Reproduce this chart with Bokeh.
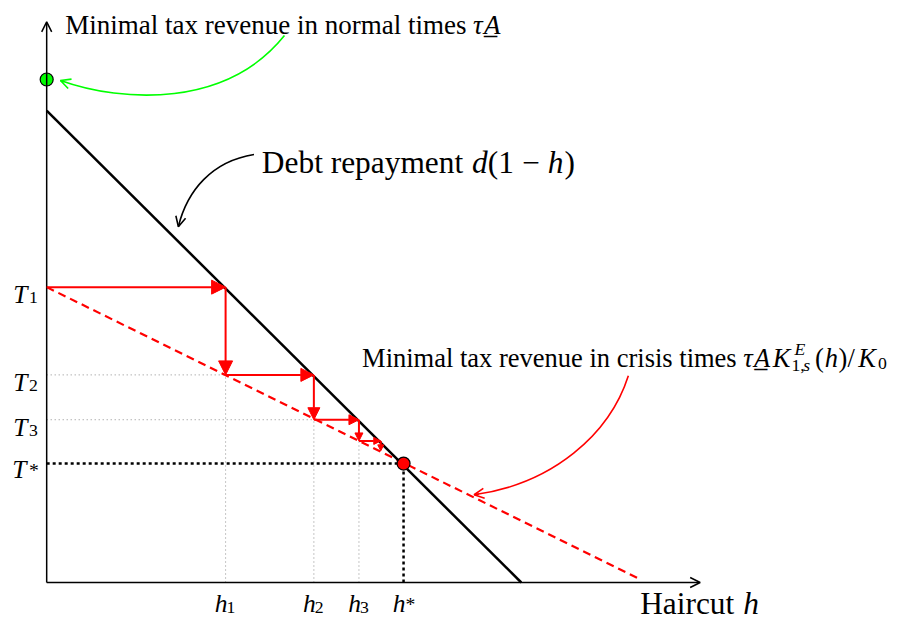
from bokeh.plotting import figure
from bokeh.models import Range1d, Arrow, OpenHead, NormalHead, Label
from bokeh.embed import file_html
from bokeh.resources import INLINE

# ---------------- data (debt d = 1) ----------------
debt_h = [0.0, 1.0]              # Debt repayment d(1-h)
debt_y = [1.0, 0.0]
crisis_h = [0.0, 1.244]          # Minimal tax revenue in crisis times
crisis_y = [0.626, 0.010]
normal_tax = 1.066               # Minimal tax revenue in normal times
cob_h = [0.377, 0.563, 0.658, 0.704]          # h_1 .. h_4
cob_T = [0.626, 0.440, 0.345, 0.300, 0.279]   # T_1 .. T_5
h_star = 0.752
T_star = 0.252
y_tick_vals = [0.626, 0.440, 0.345, 0.252]
y_tick_main = ["T", "T", "T", "T"]
y_tick_script = ["1", "2", "3", "*"]
x_tick_vals = [0.377, 0.563, 0.658, 0.752]
x_tick_main = ["h", "h", "h", "h"]
x_tick_script = ["1", "2", "3", "*"]
x_axis_end = 1.377
y_axis_end = 1.188

# ---------------- layout helpers (reference-pixel frame 917 x 637) ----------------
W, H = 901, 621
RW, RH = 917, 637
K = W / RW            # font scale from reference frame to canvas
OX, OY = 47, 597      # reference pixel of origin
SX, SY = 483, 484     # reference pixels per data unit


def X(px):
    return (px - OX) / SX


def Y(py):
    return (OY - py) / SY


def PX(h):
    return OX + h * SX


def PY(v):
    return OY - v * SY


RED = "#ff0000"
GREEN = "#00ff00"
SERIF = "Liberation Serif"

p = figure(width=W, height=H, output_backend="svg", toolbar_location=None,
           x_range=Range1d(X(0), X(RW)), y_range=Range1d(Y(RH), Y(0)),
           x_axis_type=None, y_axis_type=None, min_border=0)
p.min_border_left = p.min_border_right = p.min_border_top = p.min_border_bottom = 0
p.grid.visible = False
p.outline_line_color = None
p.background_fill_color = "white"
p.border_fill_color = "white"


def lab(px, py, text, size, italic=False, color="black"):
    p.add_layout(Label(x=X(px), y=Y(py), text=text, text_font=SERIF,
                       text_font_size=f"{size * K:.1f}px",
                       text_font_style="italic" if italic else "normal",
                       text_color=color, text_baseline="alphabetic",
                       text_align="left"))


# ---------------- guide lines ----------------
gx0, gy0, gx1, gy1 = [], [], [], []
for i in (1, 2):
    gx0.append(0); gy0.append(cob_T[i]); gx1.append(cob_h[i - 1]); gy1.append(cob_T[i])
for i in (0, 1, 2):
    gx0.append(cob_h[i]); gy0.append(0); gx1.append(cob_h[i]); gy1.append(cob_T[i + 1])
p.segment(gx0, gy0, gx1, gy1, line_color="#8c8c8c", line_width=1, line_dash="1 3")

p.segment([0, h_star], [T_star, 0], [h_star, h_star], [T_star, T_star],
          line_color="black", line_width=2.5, line_dash="3 3")

# ---------------- main curves ----------------
p.line(crisis_h, crisis_y, line_color=RED, line_width=2.2, line_dash="8 5")
p.line(debt_h, debt_y, line_color="black", line_width=2.5)

p.add_layout(Arrow(x_start=0, y_start=0, x_end=x_axis_end, y_end=0,
                   end=OpenHead(size=10, line_width=1.5), line_width=1.5))
p.add_layout(Arrow(x_start=0, y_start=0, x_end=0, y_end=y_axis_end,
                   end=OpenHead(size=10, line_width=1.5), line_width=1.5))

hsz = [14, 13, 10, 7]
vsz = [14, 12, 8, 6]
for i in range(len(cob_h)):
    xs = 0 if i == 0 else cob_h[i - 1]
    p.add_layout(Arrow(x_start=xs, y_start=cob_T[i], x_end=cob_h[i], y_end=cob_T[i],
                       end=NormalHead(size=hsz[i], fill_color=RED, line_color=RED, line_width=1),
                       line_color=RED, line_width=2))
    p.add_layout(Arrow(x_start=cob_h[i], y_start=cob_T[i], x_end=cob_h[i], y_end=cob_T[i + 1],
                       end=NormalHead(size=vsz[i], fill_color=RED, line_color=RED, line_width=1),
                       line_color=RED, line_width=2))

p.scatter([0], [normal_tax], size=13, fill_color=GREEN, line_color="black", line_width=1.2)
p.scatter([h_star], [T_star], size=13, fill_color=RED, line_color="black", line_width=1.2)


# ---------------- curved annotation arrows ----------------
def curved(P0, C1, C2, P3, color, lw=1.6):
    p.bezier(x0=[X(P0[0])], y0=[Y(P0[1])], x1=[X(P3[0])], y1=[Y(P3[1])],
             cx0=[X(C1[0])], cy0=[Y(C1[1])], cx1=[X(C2[0])], cy1=[Y(C2[1])],
             line_color=color, line_width=lw)
    sx = P3[0] - 0.06 * (P3[0] - C2[0])
    sy = P3[1] - 0.06 * (P3[1] - C2[1])
    p.add_layout(Arrow(x_start=X(sx), y_start=Y(sy), x_end=X(P3[0]), y_end=Y(P3[1]),
                       end=OpenHead(size=10, line_color=color, line_width=lw),
                       line_color=color, line_width=lw))


curved((289, 36), (230, 110), (125, 105), (61, 82), GREEN)
curved((258, 158), (215, 165), (190, 195), (181, 232), "black")
curved((639, 385), (620, 445), (562, 496), (482, 507), RED)

# ---------------- texts ----------------
lab(66, 25, "Minimal tax revenue in normal times", 27.5)
lab(481, 25, "\u03c4", 27.5, italic=True)
lab(492, 25, "A\u0332", 27.5, italic=True)

lab(368, 367, "Minimal tax revenue in crisis times", 27)
lab(756, 367, "\u03c4", 27, italic=True)
lab(767, 367, "A\u0332", 27, italic=True)
lab(786, 367, "K", 27, italic=True)
lab(808, 357, "E", 18, italic=True)
lab(805, 374, "1,", 18)
lab(817, 374, "s", 18, italic=True)
lab(829, 367, "(", 27)
lab(839, 367, "h", 27, italic=True)
lab(853, 367, ")", 27)
lab(862, 367, "/", 27)
lab(873, 367, "K", 27, italic=True)
lab(893, 372, "0", 18)

lab(266, 166, "Debt repayment", 32)
lab(480, 166, "d", 32, italic=True)
lab(496, 166, "(1", 32)
lab(531, 166, "\u2212", 32)
lab(557, 166, "h", 32, italic=True)
lab(574, 166, ")", 32)

lab(651, 619, "Haircut", 32)
lab(756, 619, "h", 32, italic=True)

for v, m, s in zip(y_tick_vals, y_tick_main, y_tick_script):
    if s == "*":
        base = PY(v) + 6
        lab(12, base, m, 26, italic=True)
        lab(29, base + 1, s, 20)
    else:
        base = PY(v) + 8
        lab(13, base, m, 26, italic=True)
        lab(29, base + 3, s, 18)

for v, m, s in zip(x_tick_vals, x_tick_main, x_tick_script):
    cx = PX(v)
    lab(cx - 11, 619, m, 26, italic=True)
    if s == "*":
        lab(cx + 2, 619, s, 20)
    else:
        lab(cx + 1, 623, s, 18)

open("out.html", "w").write(file_html(p, INLINE))
